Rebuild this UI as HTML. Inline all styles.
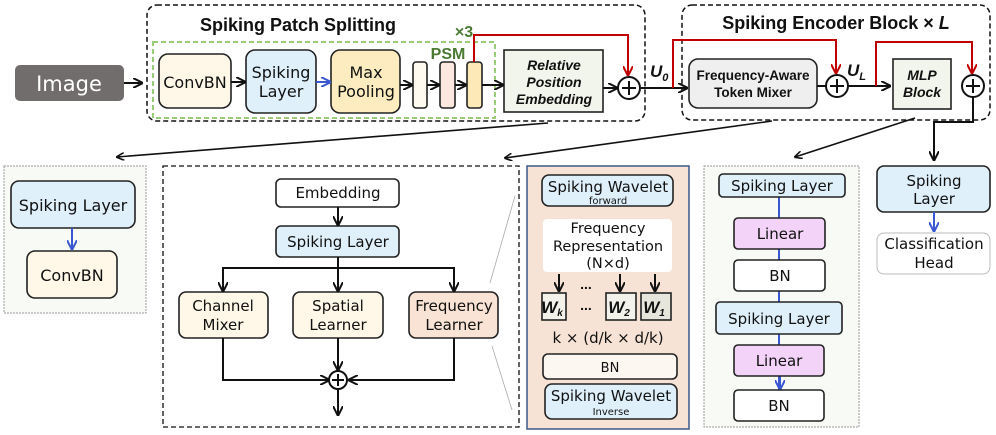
<!DOCTYPE html>
<html><head><meta charset="utf-8"><style>
html,body{margin:0;padding:0;background:#fff}
svg{display:block}
text{font-family:"DejaVu Sans","Liberation Sans",sans-serif;fill:#111}
.b{font-family:"Liberation Sans",sans-serif;font-weight:bold}
.bi{font-family:"Liberation Sans",sans-serif;font-weight:bold;font-style:italic}
</style></head><body>
<svg width="996" height="435" viewBox="0 0 996 435" xmlns="http://www.w3.org/2000/svg">
<defs>
<marker id="a" viewBox="0 0 10 10" refX="9" refY="5" markerWidth="5" markerHeight="5" orient="auto"><path d="M0,0 L10,5 L0,10" fill="none" stroke="#111" stroke-width="2"/></marker>
<marker id="ab" viewBox="0 0 10 10" refX="9" refY="5" markerWidth="5" markerHeight="5" orient="auto"><path d="M0,0 L10,5 L0,10" fill="none" stroke="#3a56d0" stroke-width="2"/></marker>
<marker id="ar" viewBox="0 0 10 10" refX="9" refY="5" markerWidth="5" markerHeight="5" orient="auto"><path d="M0,0 L10,5 L0,10" fill="none" stroke="#c00000" stroke-width="2"/></marker>
</defs>
<g stroke="#111" stroke-width="1.5" fill="none">
<rect x="147" y="5" width="498" height="116" rx="10" stroke-dasharray="5,3"/>
<rect x="682" y="5" width="308" height="115" rx="10" stroke-dasharray="5,3"/>
<rect x="153" y="42" width="342" height="76" stroke="#9acb78" stroke-width="2" stroke-dasharray="5,3"/>
</g>
<rect x="15" y="65" width="109" height="36" rx="5" fill="#716d6c"/>
<text x="69" y="91" font-size="21" text-anchor="middle" style="fill:#fff">Image</text>
<text x="298" y="31" font-size="18" class="b" text-anchor="middle">Spiking Patch Splitting</text>
<text x="836" y="29" font-size="18" class="b" text-anchor="middle">Spiking Encoder Block × <tspan font-style="italic">L</tspan></text>
<g stroke="#222" stroke-width="1.6">
<rect x="159" y="54" width="72" height="54" rx="9" fill="#fff8e8"/>
<rect x="246" y="50" width="70" height="63" rx="9" fill="#dff0fb"/>
<rect x="331" y="50" width="69" height="63" rx="9" fill="#fdecc0"/>
<rect x="413" y="62" width="14" height="46" rx="3" fill="#fffaef"/>
<rect x="440" y="62" width="15" height="46" rx="3" fill="#fde8e0"/>
<rect x="467" y="62" width="15" height="46" rx="3" fill="#fde9b8"/>
<rect x="504" y="50" width="99" height="62" fill="#f2f5ec"/>
<rect x="689" y="59" width="128" height="49" rx="9" fill="#efefef"/>
<rect x="893" y="59" width="58" height="50" fill="#f2f5ec"/>
</g>
<text x="195" y="88" font-size="16" text-anchor="middle">ConvBN</text>
<text x="281" y="78" font-size="16" text-anchor="middle">Spiking</text>
<text x="281" y="97" font-size="16" text-anchor="middle">Layer</text>
<text x="366" y="78" font-size="16" text-anchor="middle">Max</text>
<text x="366" y="97" font-size="16" text-anchor="middle">Pooling</text>
<text x="448" y="59" font-size="16" class="b" text-anchor="middle" style="fill:#4a7a32">PSM</text>
<text x="464" y="37" font-size="16" class="b" text-anchor="middle" style="fill:#4a7a32">×3</text>
<text x="554" y="70" font-size="14" class="bi" text-anchor="middle">Relative</text>
<text x="554" y="87" font-size="14" class="bi" text-anchor="middle">Position</text>
<text x="554" y="104" font-size="14" class="bi" text-anchor="middle">Embedding</text>
<text x="753" y="80" font-size="13.5" class="b" text-anchor="middle">Frequency-Aware</text>
<text x="753" y="97" font-size="13.5" class="b" text-anchor="middle">Token Mixer</text>
<text x="922" y="80" font-size="14" class="bi" text-anchor="middle">MLP</text>
<text x="922" y="97" font-size="14" class="bi" text-anchor="middle">Block</text>
<text x="650" y="77" font-size="17" class="bi">U<tspan font-size="11" dy="4">0</tspan></text>
<text x="847" y="76" font-size="17" class="bi">U<tspan font-size="11" dy="4">L</tspan></text>
<g stroke="#111" stroke-width="2" fill="none">
<line x1="124" y1="83" x2="142" y2="83" marker-end="url(#a)"/>
<line x1="231" y1="82" x2="245" y2="82" marker-end="url(#a)"/>
<line x1="400" y1="85" x2="412" y2="85" marker-end="url(#a)"/>
<line x1="427" y1="85" x2="439" y2="85" marker-end="url(#a)"/>
<line x1="455" y1="85" x2="466" y2="85" marker-end="url(#a)"/>
<line x1="482" y1="85" x2="503" y2="85" marker-end="url(#a)"/>
<line x1="603" y1="88" x2="617" y2="88" marker-end="url(#a)"/>
<line x1="641" y1="88" x2="687" y2="88" marker-end="url(#a)"/>
<line x1="817" y1="86" x2="826" y2="86"/>
<line x1="848" y1="86" x2="890" y2="86" marker-end="url(#a)"/>
<polyline points="973,97 973,122 934,122 934,160" marker-end="url(#a)"/>
<circle cx="629" cy="88" r="11" fill="#fff"/>
<path d="M622,88 H636 M629,81 V95"/>
<circle cx="837" cy="86" r="11" fill="#fff"/>
<path d="M830,86 H844 M837,79 V93"/>
<circle cx="973" cy="86" r="11" fill="#fff"/>
<path d="M966,86 H980 M973,79 V93"/>
</g>
<line x1="316" y1="82" x2="330" y2="82" stroke="#3a56d0" stroke-width="2" marker-end="url(#ab)"/>
<g stroke="#c00000" stroke-width="2" fill="none">
<polyline points="474,62 474,35 628,35 628,75" marker-end="url(#ar)"/>
<polyline points="673,88 673,40 836,40 836,73" marker-end="url(#ar)"/>
<polyline points="876,86 876,42 972,42 972,73" marker-end="url(#ar)"/>
</g>
<g stroke="#111" stroke-width="1.6" fill="none">
<line x1="548" y1="123" x2="117" y2="157" marker-end="url(#a)"/>
<line x1="772" y1="121" x2="505" y2="158" marker-end="url(#a)"/>
<line x1="915" y1="118" x2="795" y2="157" marker-end="url(#a)"/>
</g>
<rect x="4" y="166" width="142" height="147" fill="#f8faf5" stroke="#999" stroke-dasharray="2,1"/>
<rect x="11" y="181" width="124" height="47" rx="8" fill="#dff0fb" stroke="#222" stroke-width="1.6"/>
<rect x="27" y="251" width="90" height="47" rx="8" fill="#fff8e8" stroke="#222" stroke-width="1.6"/>
<text x="73" y="211" font-size="16" text-anchor="middle">Spiking Layer</text>
<text x="72" y="281" font-size="16" text-anchor="middle">ConvBN</text>
<line x1="72" y1="228" x2="72" y2="249" stroke="#3a56d0" stroke-width="2" marker-end="url(#ab)"/>
<rect x="163" y="166" width="356" height="261" fill="none" stroke="#111" stroke-width="1.3" stroke-dasharray="5,3"/>
<line x1="515" y1="196" x2="490" y2="283" stroke="#aaa" stroke-width="0.8"/>
<line x1="492" y1="346" x2="512" y2="410" stroke="#aaa" stroke-width="0.8"/>
<g stroke="#222" stroke-width="1.6">
<rect x="276" y="179" width="123" height="28" rx="5" fill="#fff"/>
<rect x="276" y="226" width="123" height="31" rx="5" fill="#dff0fb"/>
<rect x="179" y="292" width="89" height="46" rx="7" fill="#fff8e8"/>
<rect x="293" y="292" width="90" height="46" rx="7" fill="#fff8e8"/>
<rect x="409" y="292" width="89" height="46" rx="7" fill="#f8e3d4"/>
</g>
<text x="338" y="198" font-size="15" text-anchor="middle">Embedding</text>
<text x="338" y="247" font-size="15" text-anchor="middle">Spiking Layer</text>
<text x="223" y="311" font-size="15" text-anchor="middle">Channel</text>
<text x="223" y="330" font-size="15" text-anchor="middle">Mixer</text>
<text x="338" y="311" font-size="15" text-anchor="middle">Spatial</text>
<text x="338" y="330" font-size="15" text-anchor="middle">Learner</text>
<text x="454" y="311" font-size="15" text-anchor="middle">Frequency</text>
<text x="454" y="330" font-size="15" text-anchor="middle">Learner</text>
<g stroke="#111" stroke-width="2" fill="none">
<line x1="338" y1="207" x2="338" y2="225" marker-end="url(#a)"/>
<line x1="338" y1="257" x2="338" y2="291" marker-end="url(#a)"/>
<polyline points="223,290 223,268 454,268 454,290" />
<line x1="223" y1="280" x2="223" y2="291" marker-end="url(#a)"/>
<line x1="454" y1="280" x2="454" y2="291" marker-end="url(#a)"/>
<line x1="338" y1="338" x2="338" y2="370" marker-end="url(#a)"/>
<polyline points="223,338 223,380 329,380" marker-end="url(#a)"/>
<polyline points="454,338 454,380 349,380" marker-end="url(#a)"/>
<line x1="338" y1="390" x2="338" y2="415" marker-end="url(#a)"/>
<circle cx="338" cy="380" r="9" fill="#fff"/>
<path d="M332,380 H344 M338,374 V386"/>
</g>
<rect x="527" y="166" width="162" height="263" fill="#f7e3d5" stroke="#3b5a8a" stroke-width="1.5"/>
<g stroke="#222" stroke-width="1.6">
<rect x="542" y="175" width="131" height="31" rx="7" fill="#dff0fb"/>
<rect x="543" y="219" width="129" height="53" rx="4" fill="#fff" stroke="none"/>
<rect x="542" y="293" width="24" height="27" fill="#f2f2ea"/>
<rect x="606" y="293" width="30" height="27" fill="#f2f2ea"/>
<rect x="641" y="293" width="30" height="27" fill="#e6e6dc"/>
<rect x="543" y="354" width="134" height="25" rx="5" fill="#fdf7f2"/>
<rect x="545" y="384" width="132" height="35" rx="7" fill="#dff0fb"/>
</g>
<text x="608" y="192" font-size="15" text-anchor="middle">Spiking Wavelet</text>
<text x="608" y="204" font-size="10" text-anchor="middle">forward</text>
<text x="608" y="233" font-size="14.5" text-anchor="middle">Frequency</text>
<text x="608" y="251" font-size="14.5" text-anchor="middle">Representation</text>
<text x="608" y="268" font-size="14.5" text-anchor="middle">(N×d)</text>
<g stroke="#111" stroke-width="2">
<line x1="559" y1="274" x2="559" y2="291" marker-end="url(#a)"/>
<line x1="620" y1="274" x2="620" y2="291" marker-end="url(#a)"/>
<line x1="655" y1="274" x2="655" y2="291" marker-end="url(#a)"/>
</g>
<text x="586" y="289" font-size="14" class="b" text-anchor="middle">...</text>
<text x="586" y="310" font-size="14" class="b" text-anchor="middle">...</text>
<text x="552" y="313" font-size="17" class="bi" text-anchor="middle">W<tspan font-size="10" dy="3">k</tspan></text>
<text x="619" y="313" font-size="17" class="bi" text-anchor="middle">W<tspan font-size="10" dy="3">2</tspan></text>
<text x="654" y="313" font-size="17" class="bi" text-anchor="middle">W<tspan font-size="10" dy="3">1</tspan></text>
<text x="608" y="343" font-size="15" text-anchor="middle">k × (d/k × d/k)</text>
<text x="610" y="372" font-size="13" text-anchor="middle">BN</text>
<text x="611" y="401" font-size="15" text-anchor="middle">Spiking Wavelet</text>
<text x="611" y="415" font-size="10" text-anchor="middle">Inverse</text>
<rect x="704" y="166" width="155" height="261" fill="#f8faf5" stroke="#999" stroke-dasharray="2,1"/>
<line x1="779" y1="197" x2="779" y2="390" stroke="#3a56d0" stroke-width="2"/>
<line x1="780" y1="376" x2="780" y2="389" stroke="#3a56d0" stroke-width="2" marker-end="url(#ab)"/>
<g stroke="#222" stroke-width="1.6">
<rect x="719" y="174" width="126" height="23" rx="4" fill="#dff0fb"/>
<rect x="734" y="218" width="91" height="31" rx="4" fill="#f3d3f8"/>
<rect x="734" y="260" width="91" height="31" rx="4" fill="#fff"/>
<rect x="716" y="302" width="126" height="32" rx="4" fill="#dff0fb"/>
<rect x="734" y="345" width="90" height="31" rx="4" fill="#f3d3f8"/>
<rect x="734" y="390" width="90" height="31" rx="4" fill="#fff"/>
</g>
<text x="782" y="191" font-size="15" text-anchor="middle">Spiking Layer</text>
<text x="780" y="239" font-size="15" text-anchor="middle">Linear</text>
<text x="780" y="281" font-size="15" text-anchor="middle">BN</text>
<text x="779" y="324" font-size="15" text-anchor="middle">Spiking Layer</text>
<text x="779" y="366" font-size="15" text-anchor="middle">Linear</text>
<text x="779" y="411" font-size="15" text-anchor="middle">BN</text>
<rect x="877" y="166" width="113" height="46" rx="7" fill="#dff0fb" stroke="#222" stroke-width="1.6"/>
<rect x="877" y="233" width="113" height="41" rx="7" fill="#fff" stroke="#bbb" stroke-width="1"/>
<text x="934" y="186" font-size="15" text-anchor="middle">Spiking</text>
<text x="934" y="204" font-size="15" text-anchor="middle">Layer</text>
<text x="934" y="249" font-size="15" text-anchor="middle">Classification</text>
<text x="934" y="268" font-size="15" text-anchor="middle">Head</text>
<line x1="934" y1="212" x2="934" y2="231" stroke="#3a56d0" stroke-width="2" marker-end="url(#ab)"/>
</svg>
</body></html>
